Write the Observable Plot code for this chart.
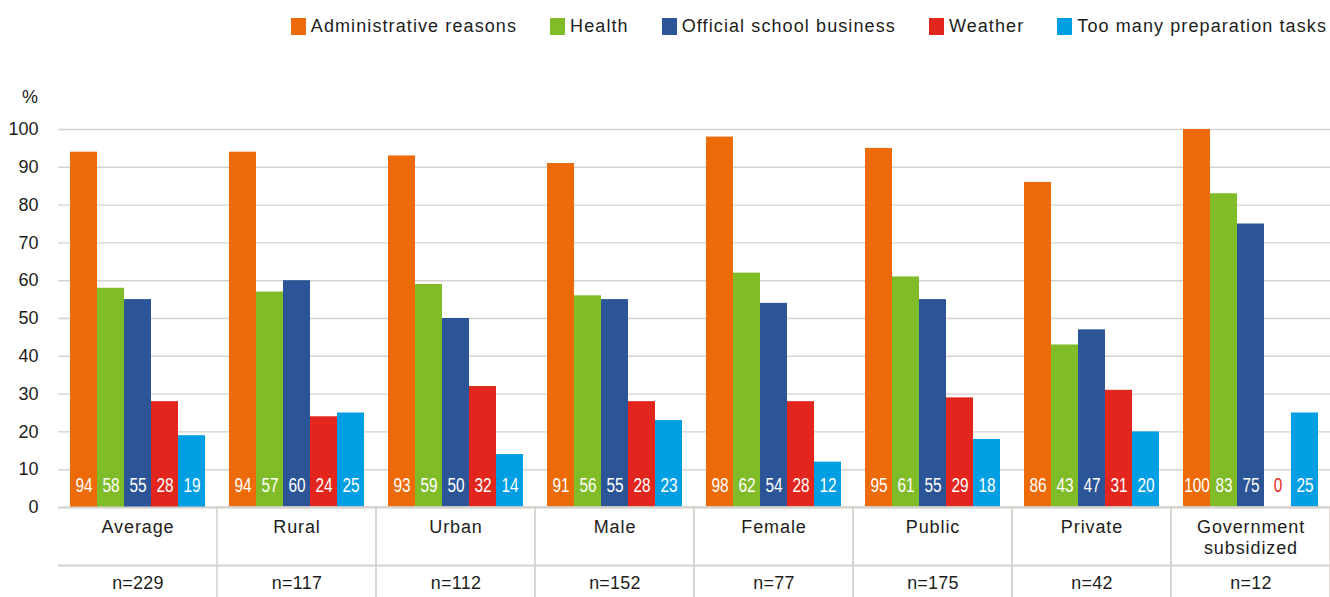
<!DOCTYPE html>
<html>
<head>
<meta charset="utf-8">
<script src="https://cdn.jsdelivr.net/npm/d3@7"></script>
<script src="https://cdn.jsdelivr.net/npm/@observablehq/plot@0.6"></script>
<style>
  html, body { margin: 0; padding: 0; background: #fff; }
  body { width: 1330px; height: 597px; overflow: hidden; position: relative;
         font-family: "Liberation Sans", Arial, sans-serif; color: #1d1d1b; }
  #legend { height: 60px; display: flex; justify-content: flex-end; align-items: flex-start;
            padding-right: 3px; box-sizing: border-box; }
  .item { display: flex; align-items: center; margin-left: 33px; margin-top: 16px;
          font-size: 18px; letter-spacing: 1.1px; line-height: 20px; }
  .sw { width: 15px; height: 17px; margin-right: 5px; }
  #pct { position: absolute; left: 22px; top: 87px; font-size: 18px; }
  #chart svg { display: block; }
  #chart svg text { letter-spacing: 0.9px; }
  #chart svg g[aria-label="y-axis tick label"] text { letter-spacing: 0; }
  #chart svg g[font-size="20"] text { letter-spacing: 0; }
  #chart svg g[font-size="17.9"] text { letter-spacing: 0.3px; }
</style>
</head>
<body>
<div id="legend"></div>
<div id="pct">%</div>
<div id="chart"></div>
<script>
const categories = ["Average", "Rural", "Urban", "Male", "Female", "Public", "Private", "Government\nsubsidized"];
const nLabels = ["n=229", "n=117", "n=112", "n=152", "n=77", "n=175", "n=42", "n=12"];
const seriesNames = ["Administrative reasons", "Health", "Official school business", "Weather", "Too many preparation tasks"];
const seriesColors = ["#ec6a08", "#80bb28", "#2b5596", "#e2261e", "#009fe3"];
const administrative = [94, 94, 93, 91, 98, 95, 86, 100];
const health = [58, 57, 59, 56, 62, 61, 43, 83];
const officialBusiness = [55, 60, 50, 55, 54, 55, 47, 75];
const weather = [28, 24, 32, 28, 28, 29, 31, 0];
const tooManyTasks = [19, 25, 14, 23, 12, 18, 20, 25];
const yTicks = [0, 10, 20, 30, 40, 50, 60, 70, 80, 90, 100];

const seriesValues = [administrative, health, officialBusiness, weather, tooManyTasks];
const rows = [];
categories.forEach((c, i) => {
  seriesNames.forEach((s, j) => {
    rows.push({category: c, series: s, value: seriesValues[j][i], color: seriesColors[j]});
  });
});

// legend
const legend = document.getElementById("legend");
seriesNames.forEach((s, j) => {
  const it = document.createElement("div");
  it.className = "item";
  const sw = document.createElement("div");
  sw.className = "sw";
  sw.style.background = seriesColors[j];
  const tx = document.createElement("span");
  tx.textContent = s;
  it.appendChild(sw); it.appendChild(tx);
  legend.appendChild(it);
});

const lineColor = "#d6d2cd";
const plot = Plot.plot({
  width: 1330,
  height: 537,
  marginLeft: 58,
  marginRight: 0,
  marginTop: 69,
  marginBottom: 90,
  fx: {domain: categories, padding: 0, axis: null},
  x: {domain: seriesNames, paddingInner: 0, paddingOuter: 0.4, axis: null},
  y: {domain: [0, 100]},
  color: {domain: seriesNames, range: seriesColors},
  style: {fontFamily: "'Liberation Sans', Arial, sans-serif", fontSize: "18px", color: "#1d1d1b", background: "transparent", overflow: "visible"},
  marks: [
    Plot.gridY(yTicks, {stroke: lineColor, strokeOpacity: 1, strokeWidth: 1.4}),
    Plot.axisY(yTicks, {tickSize: 0, tickPadding: 20, label: null, fontSize: 18}),
    Plot.barY(rows, {fx: "category", x: "series", y: "value", fill: "series"}),
    Plot.text(rows, {
      fx: "category", x: "series", frameAnchor: "bottom", dy: -16, lineAnchor: "middle",
      text: d => String(d.value),
      fill: d => d.value > 0 ? "white" : d.color,
      fontFamily: "'Liberation Sans', Arial, sans-serif",
      fontSize: 20
    }),
    Plot.rect(categories.slice(1), {fx: d => d, y1: 0, y2: 0, insetBottom: -92, fill: "none", stroke: lineColor, strokeWidth: 1.5}),
    Plot.ruleY([0], {stroke: lineColor, strokeWidth: 2}),
    Plot.ruleY([0], {stroke: lineColor, strokeWidth: 2, dy: 58}),
    Plot.text(categories, {fx: d => d, frameAnchor: "bottom", dy: 10, lineAnchor: "top", lineHeight: 1.2, text: d => d, fontSize: 18}),
    Plot.text(categories, {fx: d => d, frameAnchor: "bottom", dy: 76, lineAnchor: "middle", text: (d, i) => nLabels[i], fontSize: 17.9})
  ]
});
document.getElementById("chart").appendChild(plot);

// condense the in-bar value labels horizontally around their anchor
d3.select(plot).selectAll('g[font-size="20"] text').each(function() {
  const x = this.getAttribute("x"), y = this.getAttribute("y");
  let t = this.getAttribute("transform") || "";
  if (x != null || y != null) {
    t += ` translate(${+x || 0},${+y || 0})`;
    this.removeAttribute("x");
    this.removeAttribute("y");
  }
  this.setAttribute("transform", (t + " scale(0.77,1)").trim());
});
</script>
</body>
</html>
